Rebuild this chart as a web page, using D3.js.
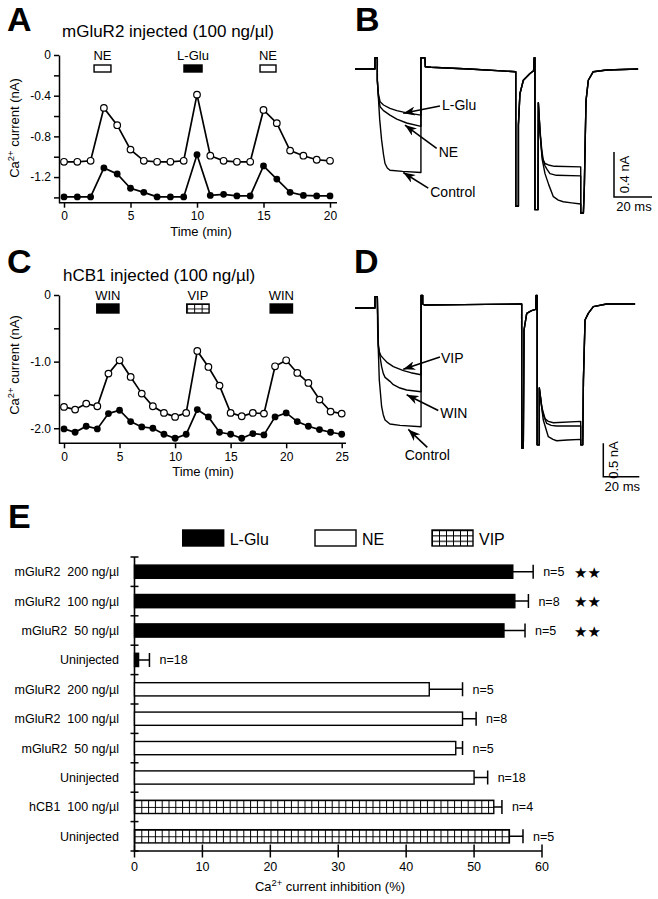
<!DOCTYPE html>
<html>
<head>
<meta charset="utf-8">
<script src="https://cdn.jsdelivr.net/npm/d3@7"></script>
<style>
  body { margin: 0; background: #fff; }
  svg { display: block; }
</style>
</head>
<body>
<script>
const FONT = '"Liberation Sans", Arial, Helvetica, sans-serif';

// ---------- panel A : mGluR2 injected, time course ----------
const timeA = [0, 1, 2, 3, 4, 5, 6, 7, 8, 9, 10, 11, 12, 13, 14, 15, 16, 17, 18, 19, 20];
const openA = [-1.05, -1.05, -1.04, -0.52, -0.69, -0.93, -1.04, -1.05, -1.05, -1.04, -0.39,
  -0.99, -1.04, -1.05, -1.05, -0.54, -0.67, -0.94, -0.99, -1.03, -1.04];
const filledA = [-1.395, -1.395, -1.395, -1.11, -1.17, -1.31, -1.35, -1.395, -1.395, -1.395, -0.98,
  -1.38, -1.37, -1.385, -1.385, -1.09, -1.22, -1.35, -1.38, -1.385, -1.385];
const drugA = ["NE", "L-Glu", "NE"];
const drugStartA = [2.26, 9.02, 14.74];
const drugEndA = [3.53, 10.38, 15.94];
const yTicksA = [0, -0.4, -0.8, -1.2];
const yMinorA = [-0.2, -0.6, -1.0, -1.4];
const xTicksA = [0, 5, 10, 15, 20];

// ---------- panel C : hCB1 injected, time course ----------
const timeC = [0, 1, 2, 3, 4, 5, 6, 7, 8, 9, 10, 11, 12, 13, 14, 15, 16, 17, 18, 19, 20, 21, 22, 23, 24, 25];
const openC = [-1.68, -1.72, -1.63, -1.67, -1.18, -0.98, -1.23, -1.48, -1.67, -1.77, -1.83, -1.77,
  -0.84, -1.08, -1.36, -1.77, -1.82, -1.77, -1.78, -1.07, -0.98, -1.17, -1.32, -1.57, -1.75, -1.78];
const filledC = [-2.01, -2.06, -1.97, -2.01, -1.78, -1.73, -1.90, -1.98, -2.00, -2.09, -2.15, -2.09,
  -1.72, -1.83, -2.06, -2.09, -2.15, -2.08, -2.10, -1.83, -1.77, -1.90, -1.97, -2.02, -2.06, -2.09];
const drugC = ["WIN", "VIP", "WIN"];
const drugStartC = [2.95, 11.05, 18.56];
const drugEndC = [4.95, 13.06, 20.57];
const yTicksC = [0, -1.0, -2.0];
const yMinorC = [-0.5, -1.5];
const xTicksC = [0, 5, 10, 15, 20, 25];

// ---------- panel B : current traces (ms, nA) ----------
const preB = [[0, 0], [10.5, 0], [10.5, 0.1], [11.75, 0.1]];
const ctrlB1 = [[11.75, -0.1], [12.3, -0.25], [13.0, -0.45], [14.0, -0.63], [15.0, -0.76], [15.8, -0.84], [17.0, -0.88], [18.4, -0.9], [25, -0.91], [34.7, -0.92]];
const neB1 = [[11.75, -0.1], [12.3, -0.24], [13.2, -0.335], [15, -0.37], [18.4, -0.41], [22, -0.445], [27.2, -0.48], [34.7, -0.51]];
const gluB1 = [[11.75, -0.1], [12.3, -0.22], [13.2, -0.29], [15, -0.32], [18.4, -0.35], [22, -0.37], [27.2, -0.39], [34.7, -0.41]];
const midB = [[34.7, 0.1], [36.8, 0.1], [37.0, 0.02], [40, 0.015], [60, 0.0], [84.6, -0.024], [84.6, -1.22], [86.0, -1.22], [86.0, -0.5],
  [86.8, -0.22], [88.6, -0.1], [92.1, -0.04], [94.0, -0.015], [94.3, 0.1], [94.7, 0.1], [94.7, -1.25], [96.3, -1.25], [96.5, -0.3]];
const ctrlB2 = [[97.4, -0.57], [98.5, -0.8], [100, -0.93], [102, -1.03], [104.4, -1.135], [107, -1.165], [109.6, -1.18], [114, -1.19], [118.8, -1.2]];
const neB2 = [[97.4, -0.57], [98.5, -0.78], [100, -0.86], [101, -0.89], [102.6, -0.93], [106, -0.945], [118.8, -0.95]];
const gluB2 = [[97.4, -0.55], [98.3, -0.72], [99.1, -0.81], [100, -0.84], [101.8, -0.853], [105, -0.865], [118.8, -0.87]];
const postB = [[118.8, -1.28], [120.2, -1.28], [120.7, -1.05], [121.2, -0.6], [121.6, -0.28], [122.8, -0.1], [125.4, -0.024], [132.5, -0.009], [149, 0.0]];

// ---------- panel D : current traces (ms, nA) ----------
const preD = [[0, 0], [11.1, 0], [11.1, 0.17], [12.4, 0.17]];
const ctrlD1 = [[12.6, -0.33], [13.5, -1.08], [14.8, -1.48], [15.7, -1.6], [16.7, -1.68], [19.4, -1.74], [25, -1.76], [36.7, -1.78]];
const winD1 = [[12.6, -0.1], [13.0, -0.55], [13.9, -0.73], [14.8, -0.88], [15.7, -0.98], [16.7, -1.04], [19.4, -1.1], [21.3, -1.15], [25, -1.2], [28.7, -1.23], [36.7, -1.255]];
const vipD1 = [[12.6, -0.1], [12.96, -0.58], [13.5, -0.66], [14.5, -0.72], [15.7, -0.755], [18, -0.82], [21.3, -0.88], [26.9, -0.94], [31, -0.97], [36.7, -1.0]];
const midD = [[36.7, 0.19], [37.6, 0.19], [37.6, 0.06], [38.5, 0.045], [60, 0.05], [92.6, 0.06], [92.6, -2.1], [93.5, -2.1], [93.9, -0.33],
  [95.4, -0.08], [98.1, -0.04], [100.4, -0.02], [100.6, 0.19], [101.2, 0.19], [101.2, -2.05], [102.4, -2.05], [102.4, -1.2]];
const ctrlD2 = [[104.6, -1.68], [107.4, -1.93], [110, -1.97], [112, -1.99], [118, -1.98], [125.4, -1.97]];
const winD2 = [[104.3, -1.58], [106.5, -1.73], [109, -1.76], [112, -1.77], [125.4, -1.77]];
const vipD2 = [[103.7, -1.48], [105.6, -1.66], [107.4, -1.7], [110.2, -1.72], [125.4, -1.7]];
const postD = [[125.4, -2.05], [126.5, -2.05], [126.9, -1.08], [127.8, -0.18], [129.6, -0.08], [132.4, 0.02], [139.8, 0.06], [155.6, 0.06]];

// ---------- panel E : inhibition summary ----------
const groupsE = ["mGluR2  200 ng/\u00b5l", "mGluR2  100 ng/\u00b5l", "mGluR2  50 ng/\u00b5l", "Uninjected",
  "mGluR2  200 ng/\u00b5l", "mGluR2  100 ng/\u00b5l", "mGluR2  50 ng/\u00b5l", "Uninjected",
  "hCB1  100 ng/\u00b5l", "Uninjected"];
const drugE = ["L-Glu", "L-Glu", "L-Glu", "L-Glu", "NE", "NE", "NE", "NE", "VIP", "VIP"];
const meanE = [55.7, 56.0, 54.4, 0.6, 43.4, 48.3, 47.3, 50.0, 52.9, 55.2];
const semE = [3.0, 2.0, 3.1, 1.6, 4.9, 2.0, 1.0, 2.0, 1.2, 2.0];
const nE = [5, 8, 5, 18, 5, 8, 5, 18, 4, 5];
const sigE = [true, true, true, false, false, false, false, false, false, false];
const legendE = ["L-Glu", "NE", "VIP"];
const xTicksE = [0, 10, 20, 30, 40, 50, 60];

const svg = d3.select("body").append("svg")
  .attr("width", 658).attr("height", 899)
  .attr("font-family", FONT);

const defs = svg.append("defs");
defs.append("marker")
  .attr("id", "arrow").attr("markerUnits", "userSpaceOnUse")
  .attr("markerWidth", 13).attr("markerHeight", 9)
  .attr("refX", 12).attr("refY", 4.5).attr("orient", "auto")
  .append("path").attr("d", "M0,0 L12,4.5 L0,9 L3.5,4.5 Z").attr("fill", "#000");

// grid (VIP) fill, aligned to the shape it fills
let gridCount = 0;
function gridFill(x0, y0, w, h) {
  const id = "grid" + (gridCount++);
  const p = defs.append("pattern").attr("id", id)
    .attr("patternUnits", "userSpaceOnUse")
    .attr("x", x0).attr("y", y0).attr("width", w).attr("height", h);
  p.append("rect").attr("width", w).attr("height", h).attr("fill", "#fff");
  p.append("path").attr("d", `M0,0.5 H${w} M0.5,0 V${h}`)
    .attr("stroke", "#000").attr("stroke-width", 1);
  return `url(#${id})`;
}
function fillFor(drug, x0, y0, gw, gh) {
  if (drug === "NE") return "#fff";
  if (drug === "VIP") return gridFill(x0, y0, gw, gh);
  return "#000";
}

// panel letters
[["A", 7, 31], ["B", 355, 31], ["C", 7, 273], ["D", 354, 273], ["E", 8, 528]].forEach(([t, x, y]) => {
  svg.append("text").attr("x", x).attr("y", y).attr("font-size", 34).attr("font-weight", "bold").text(t);
});

function caLabel(sel, rest) {
  sel.append("tspan").text("Ca");
  sel.append("tspan").attr("dy", -5).attr("font-size", "0.72em").text("2+");
  sel.append("tspan").attr("dy", 5).text(rest);
}

// ---------- time-course panels ----------
function timeCourse(o) {
  const g = svg.append("g");
  const x = o.x, y = o.y;
  const fmt = d => d === 0 ? "0" : d.toFixed(1);

  g.append("text").attr("x", o.titleX).attr("y", o.titleY).attr("font-size", 17).text(o.title);

  g.append("g").attr("transform", `translate(${o.axisX},0)`)
    .call(d3.axisLeft(y).tickValues(o.yTicks).tickFormat(fmt).tickSize(5).tickSizeOuter(0).tickPadding(3));
  g.append("g").attr("transform", `translate(${o.axisX},0)`)
    .call(d3.axisLeft(y).tickValues(o.yMinor).tickFormat("").tickSize(5).tickSizeOuter(0))
    .select(".domain").remove();
  const xAx = g.append("g").attr("transform", `translate(0,${y.range()[0]})`)
    .call(d3.axisBottom(x).tickValues(o.xTicks).tickSize(5).tickPadding(4));
  xAx.select(".domain").remove();
  g.append("line").attr("x1", o.axisX).attr("x2", o.axisEnd)
    .attr("y1", y.range()[0]).attr("y2", y.range()[0]).attr("stroke", "#000").attr("stroke-width", 1.6);
  g.selectAll(".tick text").attr("font-size", 12).attr("font-family", FONT).attr("fill", "#000");
  g.selectAll(".tick line, .domain").attr("stroke", "#000").attr("stroke-width", 1.5);
  g.selectAll("g").attr("font-family", FONT);

  g.append("text").attr("x", o.timeX).attr("y", y.range()[0] + 33)
    .attr("text-anchor", "middle").attr("font-size", 13).text("Time (min)");
  const yl = g.append("text").attr("text-anchor", "middle").attr("font-size", 13)
    .attr("transform", `translate(19,${o.ylabelY}) rotate(-90)`);
  caLabel(yl, " current (nA)");

  // drug application bars
  const top = y(0);
  o.drugs.forEach((d, i) => {
    const x0 = x(o.starts[i]), x1 = x(o.ends[i]);
    g.append("rect").attr("x", x0).attr("y", top + o.boxDy).attr("width", x1 - x0).attr("height", o.boxH)
      .attr("fill", fillFor(d, x0, top + o.boxDy, (x1 - x0) / 3, o.boxH / 2))
      .attr("stroke", "#000").attr("stroke-width", 1.4);
    g.append("text").attr("x", (x0 + x1) / 2).attr("y", top + 5).attr("text-anchor", "middle")
      .attr("font-size", 13).text(d);
  });

  const line = d3.line().x((d, i) => x(o.time[i])).y(d => y(d));
  [o.open, o.filled].forEach(s => {
    g.append("path").datum(s).attr("d", line).attr("fill", "none")
      .attr("stroke", "#000").attr("stroke-width", 1.7);
  });
  g.append("g").selectAll("circle").data(o.open).join("circle")
    .attr("cx", (d, i) => x(o.time[i])).attr("cy", d => y(d)).attr("r", 3.3)
    .attr("fill", "#fff").attr("stroke", "#000").attr("stroke-width", 1.2);
  g.append("g").selectAll("circle").data(o.filled).join("circle")
    .attr("cx", (d, i) => x(o.time[i])).attr("cy", d => y(d)).attr("r", 3.4).attr("fill", "#000");
}

timeCourse({
  x: d3.scaleLinear().domain([0, 20]).range([64, 330]),
  y: d3.scaleLinear().domain([-1.452, 0]).range([202.7, 55]),
  axisX: 59, axisEnd: 337, time: timeA, open: openA, filled: filledA,
  yTicks: yTicksA, yMinor: yMinorA, xTicks: xTicksA,
  drugs: drugA, starts: drugStartA, ends: drugEndA, boxDy: 10, boxH: 7,
  title: "mGluR2 injected (100 ng/\u00b5l)", titleX: 62, titleY: 37, timeX: 201, ylabelY: 128
});
timeCourse({
  x: d3.scaleLinear().domain([0, 25]).range([64, 341.7]),
  y: d3.scaleLinear().domain([-2.226, 0]).range([443.3, 295]),
  axisX: 59, axisEnd: 346, time: timeC, open: openC, filled: filledC,
  yTicks: yTicksC, yMinor: yMinorC, xTicks: xTicksC,
  drugs: drugC, starts: drugStartC, ends: drugEndC, boxDy: 9, boxH: 9,
  title: "hCB1 injected (100 ng/\u00b5l)", titleX: 63, titleY: 281, timeX: 203, ylabelY: 365
});

// ---------- trace panels ----------
function traces(o) {
  const g = svg.append("g");
  const x = o.x, y = o.y;
  const line = d3.line().x(d => x(d[0])).y(d => y(d[1]));
  o.sets.forEach(s => {
    const pts = [].concat(o.pre, s[0], o.mid, s[1], o.post);
    g.append("path").datum(pts).attr("d", line).attr("fill", "none")
      .attr("stroke", "#000").attr("stroke-width", 1.4).attr("stroke-linejoin", "round");
  });
  o.notes.forEach(n => {
    const tx = x(n.t), ty = y(n.i);
    g.append("line").attr("x1", tx + n.dx).attr("y1", ty + n.dy).attr("x2", tx).attr("y2", ty)
      .attr("stroke", "#000").attr("stroke-width", 1.6).attr("marker-end", "url(#arrow)");
    g.append("text").attr("x", tx + n.dx + n.lx).attr("y", ty + n.dy + n.ly)
      .attr("text-anchor", n.anchor || "start").attr("font-size", 14).text(n.label);
  });
  // scale bars
  const sx = o.barX, sy = o.barY;
  const h = y(-o.barI) - y(0), w = x(20) - x(0);
  g.append("path").attr("d", `M${sx},${sy - h} V${sy} H${sx + w}`)
    .attr("fill", "none").attr("stroke", "#000").attr("stroke-width", 1.5);
  g.append("text").attr("text-anchor", "middle").attr("font-size", 13)
    .attr("transform", `translate(${sx + 15},${sy - h / 2}) rotate(-90)`).text(o.barI + " nA");
  g.append("text").attr("x", sx + w / 2 + 1).attr("y", sy + 14).attr("text-anchor", "middle")
    .attr("font-size", 13).text("20 ms");
}

traces({
  x: d3.scaleLinear().domain([0, 150]).range([355, 640]),
  y: d3.scaleLinear().domain([0, -1]).range([69, 181.5]),
  pre: preB, mid: midB, post: postB,
  sets: [[ctrlB1, ctrlB2], [neB1, neB2], [gluB1, gluB2]],
  notes: [
    { label: "L-Glu", t: 25.4, i: -0.394, dx: 36.7, dy: -7.3, lx: 2, ly: 4 },
    { label: "NE", t: 26.3, i: -0.498, dx: 31.7, dy: 23.3, lx: 2, ly: 9 },
    { label: "Control", t: 25.4, i: -0.92, dx: 25, dy: 15.6, lx: 2, ly: 9 }
  ],
  barX: 614, barY: 197, barI: 0.4
});
traces({
  x: d3.scaleLinear().domain([0, 150]).range([355, 625]),
  y: d3.scaleLinear().domain([0, -1]).range([308, 374.7]),
  pre: preD, mid: midD, post: postD,
  sets: [[ctrlD1, ctrlD2], [winD1, winD2], [vipD1, vipD2]],
  notes: [
    { label: "VIP", t: 26.8, i: -0.92, dx: 36.7, dy: -12.3, lx: 1, ly: 5.5 },
    { label: "WIN", t: 28.7, i: -1.3, dx: 31.6, dy: 15.7, lx: 2, ly: 7.5 },
    { label: "Control", t: 29.6, i: -1.82, dx: 19, dy: 18, lx: 0, ly: 13, anchor: "middle" }
  ],
  barX: 603.3, barY: 476.7, barI: 0.5
});

// ---------- panel E ----------
const gE = svg.append("g");
const xE = d3.scaleLinear().domain([0, 60]).range([134.5, 542]);
const yE = d3.scaleBand().domain(d3.range(groupsE.length)).range([557, 851]).paddingInner(0.55).paddingOuter(0.275);
const bw = yE.bandwidth(), step = yE.step();

// legend
const lx = [182.7, 315, 432];
legendE.forEach((d, i) => {
  gE.append("rect").attr("x", lx[i]).attr("y", 530).attr("width", 41).attr("height", 16)
    .attr("fill", fillFor(d, lx[i], 530, 7, 5.33)).attr("stroke", "#000").attr("stroke-width", 1.4);
  gE.append("text").attr("x", lx[i] + 47).attr("y", 545).attr("font-size", 16).text(d);
});

// axes
gE.append("line").attr("x1", xE(0)).attr("x2", xE(0)).attr("y1", 557).attr("y2", 851)
  .attr("stroke", "#000").attr("stroke-width", 1.6);
gE.selectAll(".ctick").data(d3.range(groupsE.length + 1)).join("line")
  .attr("x1", xE(0) - 4).attr("x2", xE(0) + 4)
  .attr("y1", d => 557 + d * step).attr("y2", d => 557 + d * step)
  .attr("stroke", "#000").attr("stroke-width", 1.5);
gE.append("line").attr("x1", xE(0)).attr("x2", xE(60)).attr("y1", 851).attr("y2", 851)
  .attr("stroke", "#000").attr("stroke-width", 1.6);
gE.selectAll(".xtick").data(xTicksE).join("line")
  .attr("x1", d => xE(d)).attr("x2", d => xE(d)).attr("y1", 844.5).attr("y2", 857.5)
  .attr("stroke", "#000").attr("stroke-width", 1.5);
gE.selectAll(".xlab").data(xTicksE).join("text")
  .attr("x", d => xE(d)).attr("y", 871).attr("text-anchor", "middle").attr("font-size", 12.5).text(d => d);
const xt = gE.append("text").attr("x", 330).attr("y", 891).attr("text-anchor", "middle").attr("font-size", 13);
caLabel(xt, " current inhibition (%)");

// category labels
gE.selectAll(".cat").data(groupsE).join("text")
  .attr("x", 119).attr("y", (d, i) => yE(i) + bw / 2 + 4.5)
  .attr("text-anchor", "end").attr("font-size", 12.5).style("white-space", "pre").text(d => d);

// bars
meanE.forEach((m, i) => {
  const y0 = yE(i), cy = y0 + bw / 2;
  gE.append("rect").attr("x", xE(0)).attr("y", y0).attr("width", xE(m) - xE(0)).attr("height", bw)
    .attr("fill", fillFor(drugE[i], xE(0), y0, 6.8, bw / 2))
    .attr("stroke", "#000").attr("stroke-width", 1.4);
  const xe = xE(m + semE[i]);
  gE.append("path").attr("d", `M${xE(m)},${cy} H${xe} M${xe},${cy - 7} V${cy + 7}`)
    .attr("fill", "none").attr("stroke", "#000").attr("stroke-width", 1.5);
  gE.append("text").attr("x", xe + 10).attr("y", cy + 4.5).attr("font-size", 12.5).text("n=" + nE[i]);
  if (sigE[i]) {
    gE.append("text").attr("x", 574).attr("y", cy + 6).attr("font-size", 15)
      .attr("font-family", "DejaVu Sans").text("\u2605\u2605");
  }
});
</script>
</body>
</html>
